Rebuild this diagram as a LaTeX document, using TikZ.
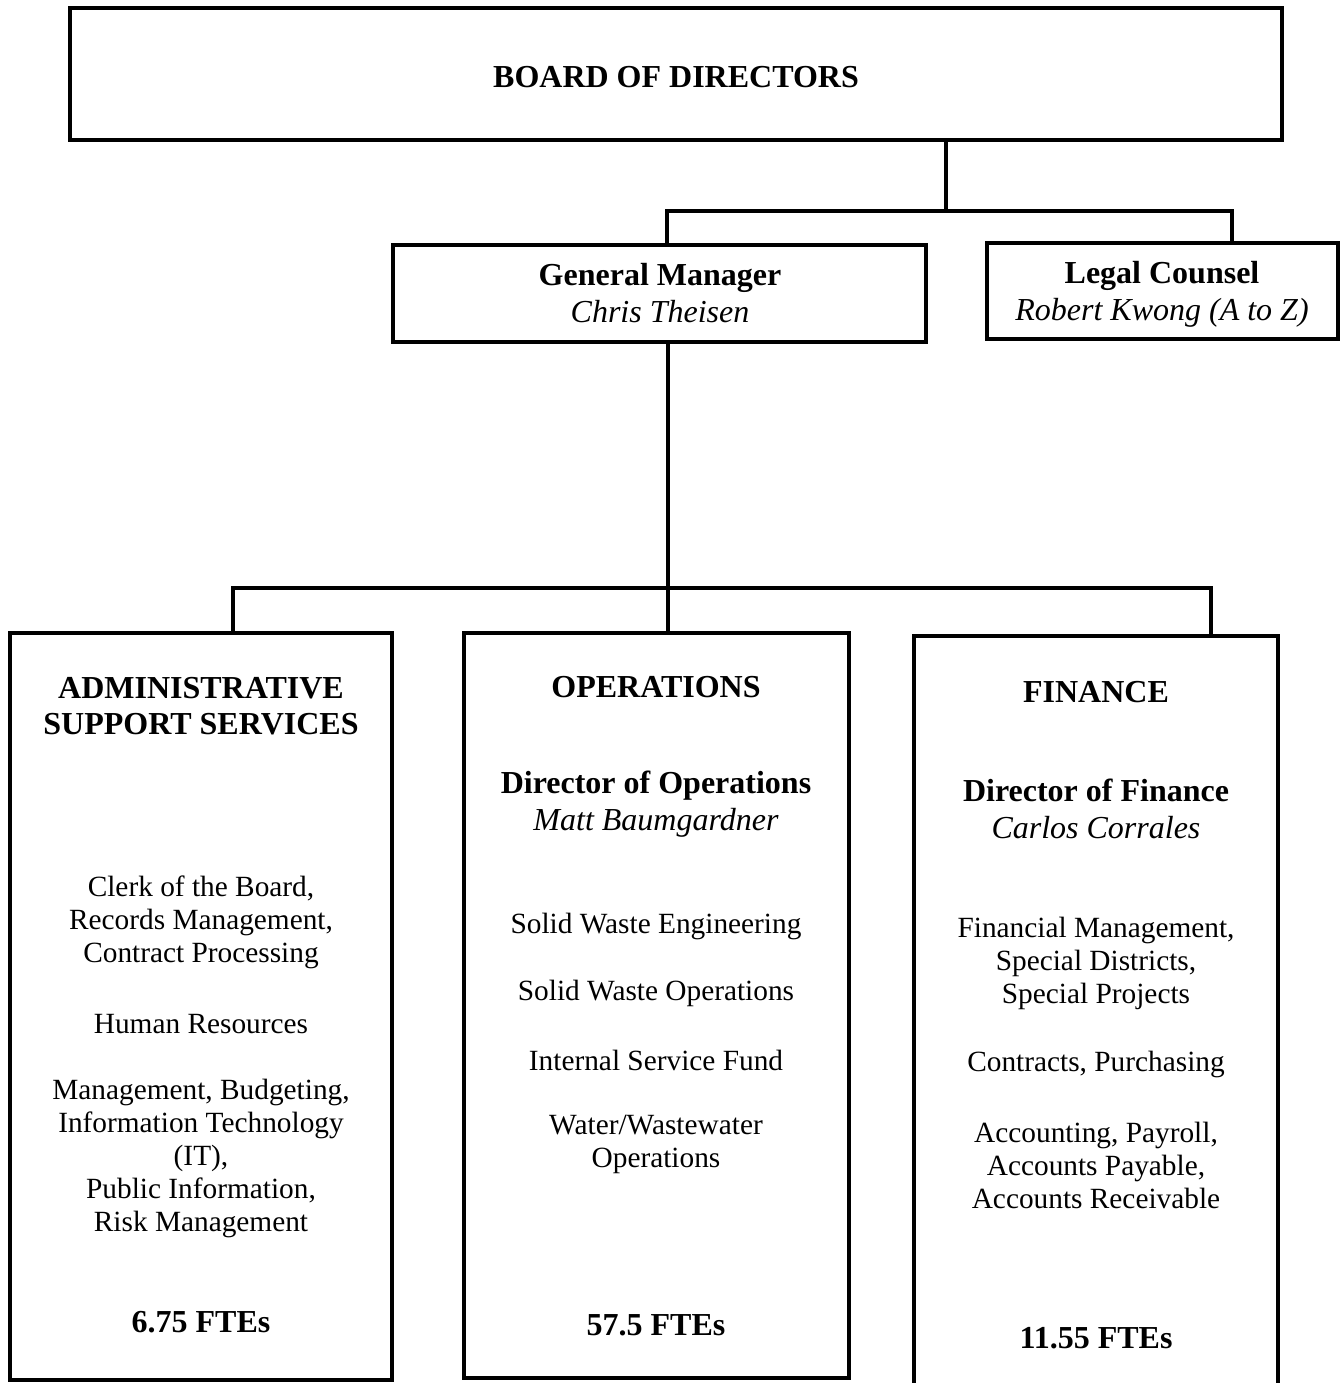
\documentclass[tikz,border=0pt]{standalone}
\usepackage{fontspec}
\setmainfont{Liberation Serif}
\usepackage{tikz}
\usetikzlibrary{positioning,calc}
\tikzset{
  orgbox/.style={draw,line width=2.5pt,rectangle,inner sep=0pt,align=center},
  link/.style={line width=2.4pt},
  headtxt/.style={inner sep=0pt,align=center,font=\fontsize{24}{27.5}\selectfont\bfseries},
  nametxt/.style={inner sep=0pt,align=center,font=\fontsize{24}{27.75}\selectfont},
  bodytxt/.style={inner sep=0pt,align=center,font=\fontsize{22}{24.75}\selectfont}
}
\begin{document}
\begin{tikzpicture}[x=0.75pt,y=-0.75pt]
  \useasboundingbox (0,0) rectangle (1341,1383);
  \clip (0,0) rectangle (1341,1383);
  % top level
  \node[orgbox,minimum width={1212*0.75pt},minimum height={132*0.75pt}] (board) at (676,74) {};
  \node[headtxt] (boardtxt) at (676,77) {BOARD OF DIRECTORS};
  \node[orgbox,minimum width={533*0.75pt},minimum height={97*0.75pt}] (gm) at (659.5,293.5) {};
  \node[nametxt] (gmtxt) at (660,293) {\textbf{General Manager}\\\textit{Chris Theisen}};
  \node[orgbox,minimum width={351*0.75pt},minimum height={96*0.75pt}] (legal) at (1162.5,291) {};
  \node[nametxt] (legaltxt) at (1162,294.5) {\textbf{Legal Counsel}\\\textit{Robert Kwong (A to Z)}};
  % departments
  \node[orgbox,minimum width={382*0.75pt},minimum height={747*0.75pt}] (admin) at (201,1006.5) {};
  \node[orgbox,minimum width={385*0.75pt},minimum height={745*0.75pt}] (ops) at (656.5,1005.5) {};
  \node[orgbox,minimum width={364*0.75pt},minimum height={784*0.75pt}] (fin) at (1096,1028) {};
  % connectors
  \coordinate (topbus) at (946,211);
  \coordinate (gmtap) at (667,245);
  \coordinate (legaltap) at (1232,243);
  \draw[link] (board.south -| topbus) -- (topbus);
  \draw[link] (gm.north -| gmtap) |- (topbus) -| (legal.north -| legaltap);
  \coordinate (midbus) at (668,588);
  \coordinate (admtap) at (233,633);
  \coordinate (fintap) at (1211,636);
  \draw[link] (gm.south -| midbus) -- (ops.north -| midbus);
  \draw[link] (admin.north -| admtap) |- (midbus) -| (fin.north -| fintap);
  % administrative support services
  \node[headtxt] (admhead) at (201,706) {ADMINISTRATIVE\\SUPPORT SERVICES};
  \node[bodytxt] (admclerk) at (201,922.5) {Clerk of the Board,\\Records Management,\\Contract Processing};
  \node[bodytxt] (admhr) at (201,1024) {Human Resources};
  \node[bodytxt] (admmgmt) at (201,1158.5) {Management, Budgeting,\\Information Technology\\(IT),\\Public Information,\\Risk Management};
  \node[headtxt] (admfte) at (201,1322) {6.75 FTEs};
  % operations
  \node[headtxt] (opshead) at (656,687) {OPERATIONS};
  \node[nametxt] (opsdir) at (656,804.5) {\textbf{Director of Operations}\\\textit{Matt Baumgardner}};
  \node[bodytxt] (opseng) at (656,926) {Solid Waste Engineering};
  \node[bodytxt] (opsswo) at (656,993) {Solid Waste Operations};
  \node[bodytxt] (opsisf) at (656,1060) {Internal Service Fund};
  \node[bodytxt] (opswater) at (656,1144.5) {Water/Wastewater\\Operations};
  \node[headtxt] (opsfte) at (656,1325) {57.5 FTEs};
  % finance
  \node[headtxt] (finhead) at (1096,692) {FINANCE};
  \node[nametxt] (findir) at (1096,808.5) {\textbf{Director of Finance}\\\textit{Carlos Corrales}};
  \node[bodytxt] (finmgmt) at (1096,963.5) {Financial Management,\\Special Districts,\\Special Projects};
  \node[bodytxt] (fincontr) at (1096,1064) {Contracts, Purchasing};
  \node[bodytxt] (finacct) at (1096,1165) {Accounting, Payroll,\\Accounts Payable,\\Accounts Receivable};
  \node[headtxt] (finfte) at (1096,1338) {11.55 FTEs};
\end{tikzpicture}
\end{document}
